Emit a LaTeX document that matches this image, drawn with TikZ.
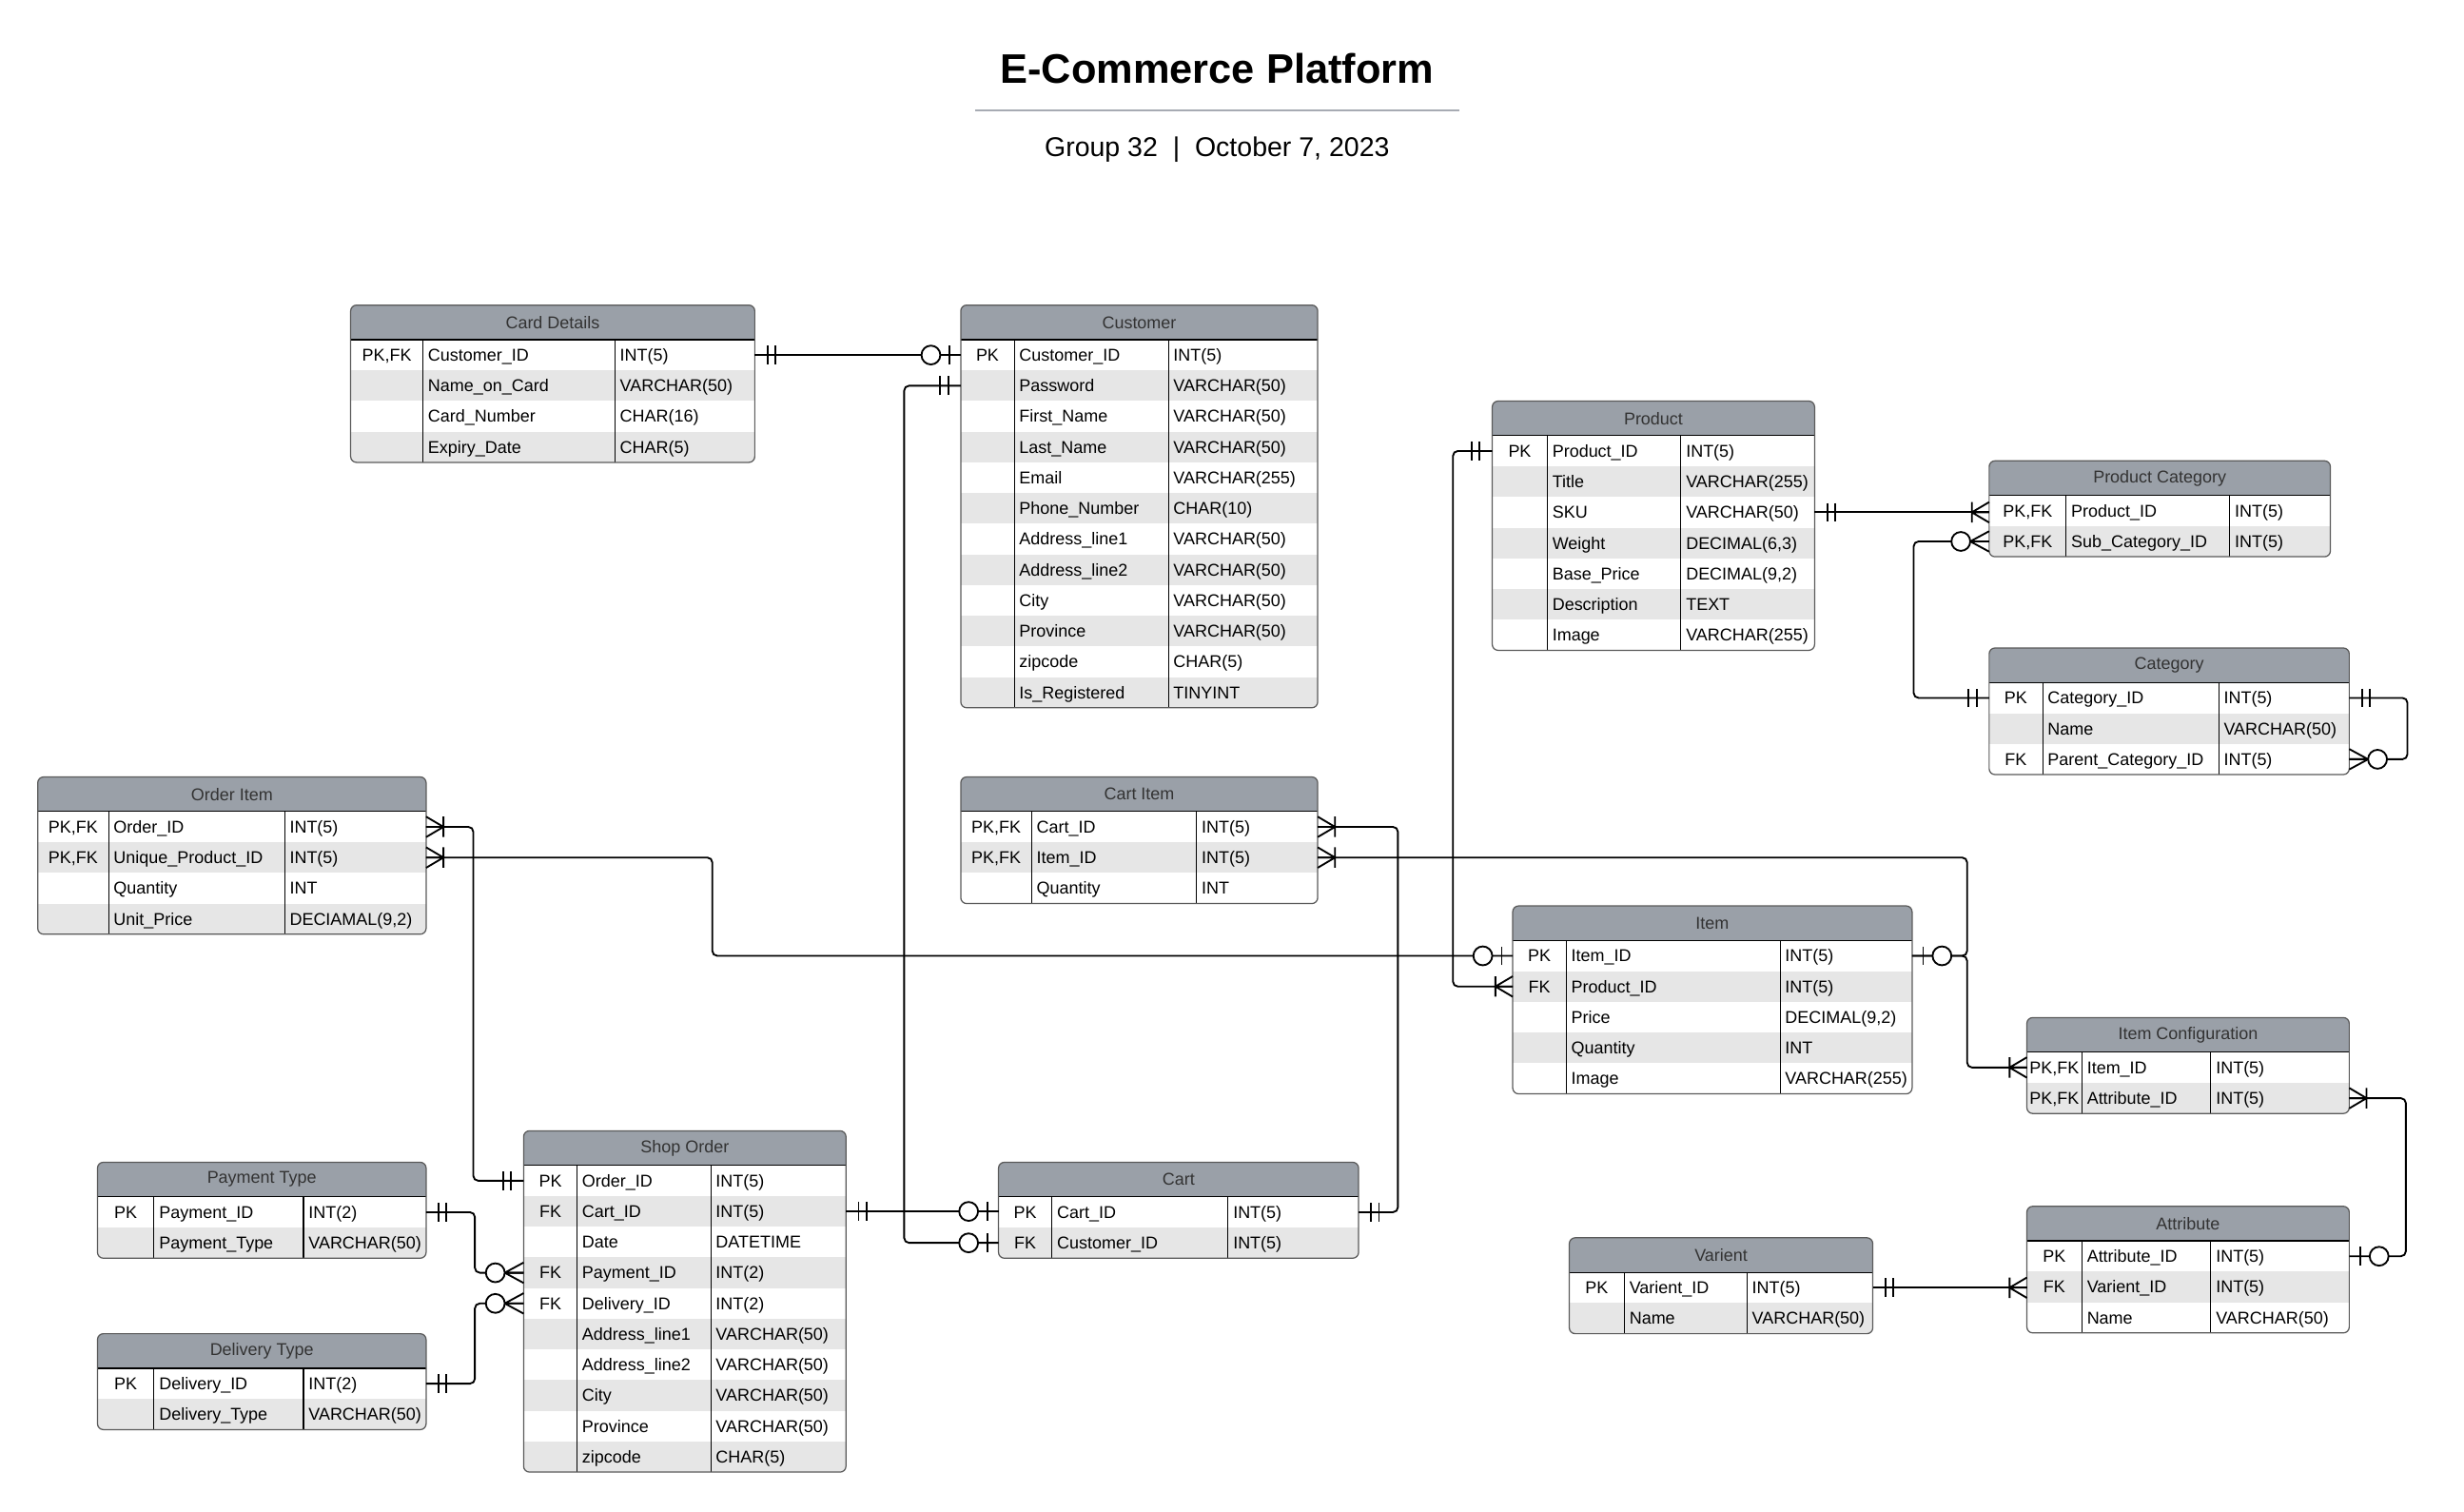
\documentclass[tikz,border=0pt]{standalone}
\usepackage{fontspec}
\setmainfont{Liberation Sans}
\usetikzlibrary{positioning, calc}

\definecolor{hdrgrey}{HTML}{9AA0A8}
\definecolor{rowgrey}{HTML}{E6E6E6}
\definecolor{boxline}{HTML}{5A5A5A}
\definecolor{rulegrey}{HTML}{A7ABB3}

\tikzset{
  tabtitle/.style={font=\fontsize{8.7}{10}\selectfont, text=black!80, inner sep=0},
  fieldrow/.style={inner sep=0, outer sep=0, minimum height=15.6pt},
  fieldtext/.style={font=\fontsize{8.7}{10}\selectfont, inner sep=0, text height=6.2pt, text depth=0pt},
  rel/.style={draw=black, line width=0.9pt, rounded corners=2.5},
  mandone/.pic={\draw[line width=0.9pt] (8,-6) -- (8,6) (13,-6) -- (13,6);},
  zeroone/.pic={\draw[line width=0.9pt] (7,-6) -- (7,6);
                \draw[line width=0.9pt, fill=white] (19,0) circle (6);},
  onemany/.pic={\draw[line width=0.9pt] (0,-6.5) -- (11,0) -- (0,6.5) (0,0) -- (11,0) (11,-6.5) -- (11,6.5);},
  zeromany/.pic={\draw[line width=0.9pt] (0,-6.5) -- (12,0) -- (0,6.5) (0,0) -- (12,0);
                 \draw[line width=0.9pt, fill=white] (18,0) circle (6);}
}

% #1 name, #2 left, #3 top, #4 key col, #5 key+name col, #6 width, #7 rows, #8 title, #9 fields
\newcommand{\ertable}[9]{%
  \begin{scope}
    \clip[rounded corners=3] (#2,#3) rectangle ++(#6,{22+19.5*#7});
    \fill[hdrgrey] (#2,#3) rectangle ++(#6,22);
    \node[tabtitle] (#1) at ({#2+#6/2},{#3+11}) {#8};
    \foreach \fkey/\fname/\ftype [count=\i] in {#9} {
      \ifodd\i\relax\def\rowfill{white}\else\def\rowfill{rowgrey}\fi
      \node[fieldrow, fill=\rowfill, minimum width={#6*0.8pt}] (#1-\i) at ({#2+#6/2},{#3+12.25+19.5*\i}) {};
      \node[fieldtext] (#1-\i-k) at ({#2+#4/2},{#3+12.25+19.5*\i}) {\fkey};
      \node[fieldtext, anchor=west] (#1-\i-n) at ({#2+#4+3},{#3+12.25+19.5*\i}) {\fname};
      \node[fieldtext, anchor=west] (#1-\i-t) at ({#2+#5+3},{#3+12.25+19.5*\i}) {\ftype};
    }
    \draw[line width=0.6pt] (#2,{#3+22}) -- ++(#6,0);
    \draw[line width=0.5pt] ({#2+#4},{#3+22}) -- ++(0,{19.5*#7});
    \draw[line width=0.5pt] ({#2+#5},{#3+22}) -- ++(0,{19.5*#7});
  \end{scope}
  \draw[boxline, line width=0.6pt, rounded corners=3] (#2,#3) rectangle ++(#6,{22+19.5*#7});
}

\begin{document}
\begin{tikzpicture}[x=0.8pt, y=-0.8pt]
  \useasboundingbox (0,0) rectangle (1567,960.8);

  % title
  \node[anchor=base, font=\bfseries\fontsize{21}{25}\selectfont] (title) at (774,53) {E-Commerce Platform};
  \draw[rulegrey, line width=0.9pt] (620,70) -- (928,70);
  \node[anchor=base, font=\fontsize{13.8}{16}\selectfont] (subtitle) at (774,99.6) {Group 32~~|~~October 7, 2023};

  % tables
  \ertable{card}{223}{194}{46}{168}{257}{4}{Card Details}{%
    {PK,FK}/Customer\_ID/INT(5), {}/Name\_on\_Card/VARCHAR(50), {}/Card\_Number/CHAR(16), {}/Expiry\_Date/CHAR(5)}
  \ertable{cust}{611}{194}{34}{132}{227}{12}{Customer}{%
    PK/Customer\_ID/INT(5), {}/Password/VARCHAR(50), {}/First\_Name/VARCHAR(50), {}/Last\_Name/VARCHAR(50),
    {}/Email/VARCHAR(255), {}/Phone\_Number/CHAR(10), {}/Address\_line1/VARCHAR(50), {}/Address\_line2/VARCHAR(50),
    {}/City/VARCHAR(50), {}/Province/VARCHAR(50), {}/zipcode/CHAR(5), {}/Is\_Registered/TINYINT}
  \ertable{prod}{949}{255}{35}{120}{205}{7}{Product}{%
    PK/Product\_ID/INT(5), {}/Title/VARCHAR(255), {}/SKU/VARCHAR(50), {}/Weight/{DECIMAL(6,3)},
    {}/Base\_Price/{DECIMAL(9,2)}, {}/Description/TEXT, {}/Image/VARCHAR(255)}
  \ertable{prodcat}{1265}{293}{49}{153}{217}{2}{Product Category}{%
    {PK,FK}/Product\_ID/INT(5), {PK,FK}/Sub\_Category\_ID/INT(5)}
  \ertable{cat}{1265}{412}{34}{146}{229}{3}{Category}{%
    PK/Category\_ID/INT(5), {}/Name/VARCHAR(50), FK/Parent\_Category\_ID/INT(5)}
  \ertable{orditem}{24}{494}{45}{157}{247}{4}{Order Item}{%
    {PK,FK}/Order\_ID/INT(5), {PK,FK}/Unique\_Product\_ID/INT(5), {}/Quantity/INT, {}/Unit\_Price/{DECIAMAL(9,2)}}
  \ertable{cartitem}{611}{494}{45}{150}{227}{3}{Cart Item}{%
    {PK,FK}/Cart\_ID/INT(5), {PK,FK}/Item\_ID/INT(5), {}/Quantity/INT}
  \ertable{item}{962}{576}{34}{170}{254}{5}{Item}{%
    PK/Item\_ID/INT(5), FK/Product\_ID/INT(5), {}/Price/{DECIMAL(9,2)}, {}/Quantity/INT, {}/Image/VARCHAR(255)}
  \ertable{itemcfg}{1289}{647}{35}{117}{205}{2}{Item Configuration}{%
    {PK,FK}/Item\_ID/INT(5), {PK,FK}/Attribute\_ID/INT(5)}
  \ertable{pay}{62}{739}{36}{131}{209}{2}{Payment Type}{%
    PK/Payment\_ID/INT(2), {}/Payment\_Type/VARCHAR(50)}
  \ertable{deliv}{62}{848}{36}{131}{209}{2}{Delivery Type}{%
    PK/Delivery\_ID/INT(2), {}/Delivery\_Type/VARCHAR(50)}
  \ertable{order}{333}{719}{34}{119}{205}{10}{Shop Order}{%
    PK/Order\_ID/INT(5), FK/Cart\_ID/INT(5), {}/Date/DATETIME, FK/Payment\_ID/INT(2), FK/Delivery\_ID/INT(2),
    {}/Address\_line1/VARCHAR(50), {}/Address\_line2/VARCHAR(50), {}/City/VARCHAR(50), {}/Province/VARCHAR(50),
    {}/zipcode/CHAR(5)}
  \ertable{cart}{635}{739}{34}{146}{229}{2}{Cart}{%
    PK/Cart\_ID/INT(5), FK/Customer\_ID/INT(5)}
  \ertable{var}{998}{787}{35}{113}{193}{2}{Varient}{%
    PK/Varient\_ID/INT(5), {}/Name/VARCHAR(50)}
  \ertable{attr}{1289}{767}{35}{117}{205}{3}{Attribute}{%
    PK/Attribute\_ID/INT(5), FK/Varient\_ID/INT(5), {}/Name/VARCHAR(50)}

  % relationships
  \draw[rel] (card-1.east) -- (cust-1.west);
  \pic at (card-1.east) {mandone};
  \pic[rotate=180] at (cust-1.west) {zeroone};

  \draw[rel] (cust-2.west) -- ++(-36,0) |- (cart-2.west);
  \pic[rotate=180] at (cust-2.west) {mandone};
  \pic[rotate=180] at (cart-2.west) {zeroone};

  \draw[rel] (order-2.east) -- (order-2.east -| cart-1.west);
  \pic at (order-2.east) {mandone};
  \pic[rotate=180] at (order-2.east -| cart-1.west) {zeroone};

  \draw[rel] (cart-1.east) -- ++(25,0) |- (cartitem-1.east);
  \pic at (cart-1.east) {mandone};
  \pic at (cartitem-1.east) {onemany};

  \draw[rel] (item-1.east) -- ++(35,0) |- (cartitem-2.east);
  \draw[rel] (item-1.east) -- ++(35,0) |- (itemcfg-1.west);
  \pic at (item-1.east) {zeroone};
  \pic at (cartitem-2.east) {onemany};
  \pic[rotate=180] at (itemcfg-1.west) {onemany};

  \draw[rel] (orditem-1.east) -- ++(30,0) |- (order-1.west);
  \pic at (orditem-1.east) {onemany};
  \pic[rotate=180] at (order-1.west) {mandone};

  \draw[rel] (orditem-2.east) -- ++(182,0) |- (item-1.west);
  \pic at (orditem-2.east) {onemany};
  \pic[rotate=180] at (item-1.west) {zeroone};

  \draw[rel] (prod-1.west) -- ++(-25,0) |- (item-2.west);
  \pic[rotate=180] at (prod-1.west) {mandone};
  \pic[rotate=180] at (item-2.west) {onemany};

  \draw[rel] (prod-3.east) -- (prod-3.east -| prodcat-1.west);
  \pic at (prod-3.east) {mandone};
  \pic[rotate=180] at (prod-3.east -| prodcat-1.west) {onemany};

  \draw[rel] (cat-1.west) -- ++(-48,0) |- (prodcat-2.west);
  \pic[rotate=180] at (cat-1.west) {mandone};
  \pic[rotate=180] at (prodcat-2.west) {zeromany};

  \draw[rel] (cat-1.east) -- ++(37,0) |- (cat-3.east);
  \pic at (cat-1.east) {mandone};
  \pic at (cat-3.east) {zeromany};

  \draw[rel] (itemcfg-2.east) -- ++(36,0) |- (attr-1.east);
  \pic at (itemcfg-2.east) {onemany};
  \pic at (attr-1.east) {zeroone};

  \draw[rel] (var-1.east) -- (var-1.east -| attr-2.west);
  \pic at (var-1.east) {mandone};
  \pic[rotate=180] at (var-1.east -| attr-2.west) {onemany};

  \draw[rel] (pay-1.east) -- ++(31,0) |- (order-4.west);
  \pic at (pay-1.east) {mandone};
  \pic[rotate=180] at (order-4.west) {zeromany};

  \draw[rel] (deliv-1.east) -- ++(31,0) |- (order-5.west);
  \pic at (deliv-1.east) {mandone};
  \pic[rotate=180] at (order-5.west) {zeromany};
\end{tikzpicture}
\end{document}
